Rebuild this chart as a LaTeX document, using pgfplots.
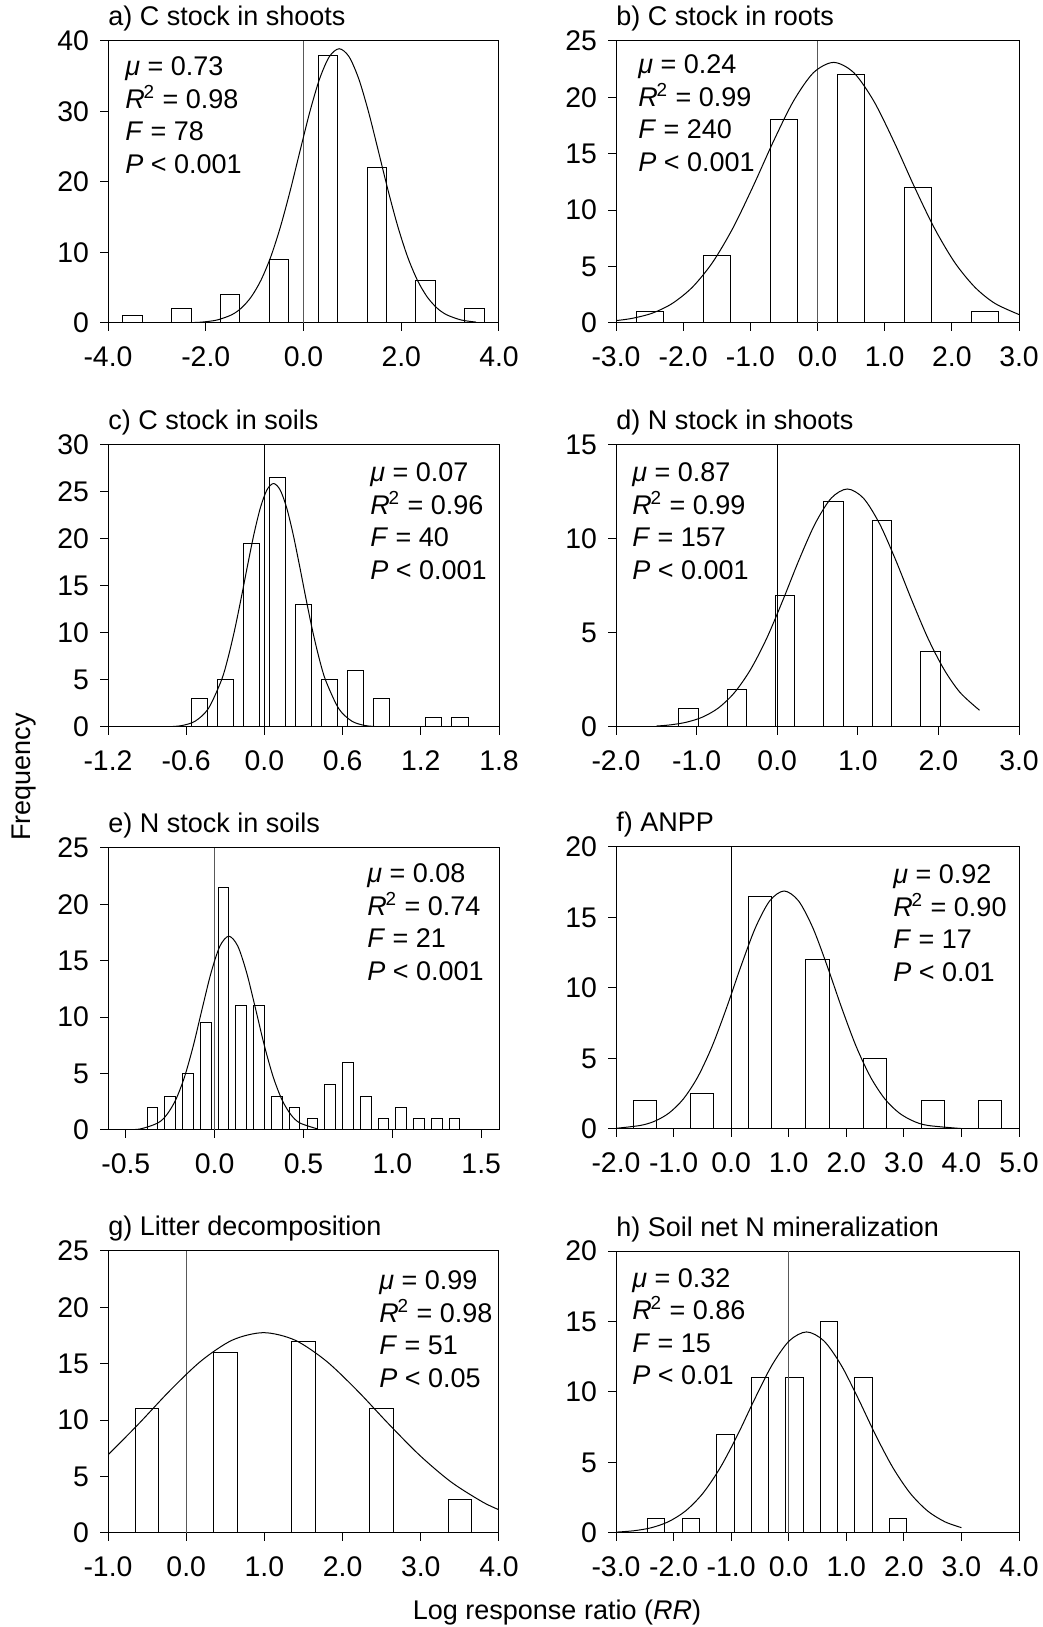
\documentclass[border=0pt]{standalone}
\usepackage{fontspec}
\setmainfont{Liberation Sans}
\usepackage{pgfplots}
\pgfplotsset{compat=1.18}
\newcommand\fs{\fontsize{13.5}{16.25}\selectfont}
\newcommand\ts{\fontsize{14.2}{16.5}\selectfont}
% four lines of fit statistics: x offset, baseline of first line below the top, mu, R2, F, P
\newcommand\stats[6]{%
  \node[anchor=base west,inner sep=0pt,xshift=#1,yshift=-#2] at (rel axis cs:0,1) {\textit{μ} = #3};
  \node[anchor=base west,inner sep=0pt,xshift=#1,yshift=-#2,yshift=-16.25pt] at (rel axis cs:0,1) {\textit{R}\kern-0.6pt\textsuperscript{2} = #4};
  \node[anchor=base west,inner sep=0pt,xshift=#1,yshift=-#2,yshift=-32.5pt] at (rel axis cs:0,1) {\textit{F} = #5};
  \node[anchor=base west,inner sep=0pt,xshift=#1,yshift=-#2,yshift=-48.75pt] at (rel axis cs:0,1) {\textit{P} < #6};
}
\pgfplotsset{
  hist/.style={
    scale only axis, height=141pt, anchor=south west,
    ymin=0, tick pos=left, tick align=outside, major tick length=4pt,
    axis line style={line width=0.5pt}, tick style={black, line width=0.5pt},
    tick label style={font=\ts}, /pgf/number format/assume math mode=true,
    xticklabel style={yshift=-4.5pt}, yticklabel style={xshift=-2pt},
    title style={at={(axis description cs:0,1)}, anchor=base west, yshift=1.5pt, inner sep=0pt, font=\fs},
  },
  bars/.style={ybar, bar shift=0pt, bar width=#1, fill=white, draw=black, line width=0.5pt},
  curve/.style={black, line width=0.5pt, smooth},
  zline/.style={#1, line width=0.55pt},
}
\begin{document}
\begin{tikzpicture}[font=\fs]
\useasboundingbox (0,0) rectangle (521.5pt,813.5pt);

% a)
\begin{axis}[hist, at={(54pt,652pt)}, width=195.5pt, xmin=-4, xmax=4, ymax=40,
  xtick={-4,-2,0,2,4}, xticklabels={-4.0,-2.0,0.0,2.0,4.0}, ytick={0,10,20,30,40},
  title={a) C stock in shoots}]
\addplot[bars=0.4] coordinates {(-3.5,1) (-2.5,2) (-1.5,4) (-0.5,9) (0.5,38) (1.5,22) (2.5,6) (3.5,2)};
\addplot[zline=black!65] coordinates {(0,0) (0,40)};
\addplot[curve] coordinates {(-2.27,0.06) (-2.07,0.13) (-1.77,0.42) (-1.47,1.16) (-1.27,2.13) (-1.07,3.70)
  (-0.87,6.07) (-0.67,9.38) (-0.47,13.68) (-0.27,18.82) (-0.07,24.44) (0.13,29.96) (0.33,34.64)
  (0.53,37.79) (0.73,38.9) (0.93,37.79) (1.13,34.64) (1.33,29.96) (1.53,24.44) (1.73,18.82)
  (1.93,13.68) (2.13,9.38) (2.33,6.07) (2.53,3.70) (2.73,2.13) (2.93,1.16) (3.23,0.42) (3.53,0.13)};
\stats{8.5pt}{17.5pt}{0.73}{0.98}{78}{0.001}
\end{axis}

% b)
\begin{axis}[hist, at={(308pt,652pt)}, width=201.5pt, xmin=-3, xmax=3, ymax=25,
  xtick={-3,-2,-1,0,1,2,3}, xticklabels={-3.0,-2.0,-1.0,0.0,1.0,2.0,3.0}, ytick={0,5,10,15,20,25},
  title={b) C stock in roots}]
\addplot[bars=0.4] coordinates {(-2.5,1) (-1.5,6) (-0.5,18) (0.5,22) (1.5,12) (2.5,1)};
\addplot[zline=black!65] coordinates {(0,0) (0,25)};
\addplot[curve] coordinates {(-3.0,0.21) (-2.76,0.41) (-2.46,0.87) (-2.16,1.74) (-1.86,3.19) (-1.56,5.39)
  (-1.26,8.41) (-0.96,12.10) (-0.66,16.05) (-0.36,19.65) (-0.06,22.19) (0.24,23.1) (0.54,22.19)
  (0.84,19.65) (1.14,16.05) (1.44,12.10) (1.74,8.41) (2.04,5.39) (2.34,3.19) (2.64,1.74) (3.0,0.75)};
\stats{11pt}{16.5pt}{0.24}{0.99}{240}{0.001}
\end{axis}

% c)
\begin{axis}[hist, at={(54pt,450pt)}, width=195.5pt, xmin=-1.2, xmax=1.8, ymax=30,
  xtick={-1.2,-0.6,0,0.6,1.2,1.8}, xticklabels={-1.2,-0.6,0.0,0.6,1.2,1.8}, ytick={0,5,10,15,20,25,30},
  title={c) C stock in soils}]
\addplot[bars=0.125] coordinates {(-0.5,3) (-0.3,5) (-0.1,19.5) (0.1,26.5) (0.3,13) (0.5,5) (0.7,6) (0.9,3) (1.3,1) (1.5,1)};
\addplot[zline=black] coordinates {(0,0) (0,30)};
\addplot[curve] coordinates {(-0.83,0.01) (-0.73,0.03) (-0.63,0.16) (-0.53,0.63) (-0.43,1.96) (-0.33,4.96)
  (-0.28,7.31) (-0.23,10.22) (-0.18,13.58) (-0.13,17.13) (-0.08,20.53) (-0.03,23.36) (0.02,25.24)
  (0.07,25.9) (0.12,25.24) (0.17,23.36) (0.22,20.53) (0.27,17.13) (0.32,13.58) (0.37,10.22)
  (0.42,7.31) (0.47,4.96) (0.57,1.96) (0.67,0.63) (0.77,0.16) (0.87,0.03)};
\stats{131pt}{18.5pt}{0.07}{0.96}{40}{0.001}
\end{axis}

% d)
\begin{axis}[hist, at={(308pt,450pt)}, width=201.5pt, xmin=-2, xmax=3, ymax=15,
  xtick={-2,-1,0,1,2,3}, xticklabels={-2.0,-1.0,0.0,1.0,2.0,3.0}, ytick={0,5,10,15},
  title={d) N stock in shoots}]
\addplot[bars=0.24] coordinates {(-1.1,1) (-0.5,2) (0.1,7) (0.7,12) (1.3,11) (1.9,4)};
\addplot[zline=black] coordinates {(0,0) (0,15)};
\addplot[curve] coordinates {(-1.5,0.05) (-1.33,0.11) (-1.13,0.25) (-0.93,0.52) (-0.73,1.01) (-0.53,1.83)
  (-0.33,3.06) (-0.13,4.72) (0.07,6.74) (0.27,8.88) (0.47,10.81) (0.67,12.17) (0.87,12.66)
  (1.07,12.17) (1.27,10.81) (1.47,8.88) (1.67,6.74) (1.87,4.72) (2.07,3.06) (2.27,1.83) (2.51,0.89)};
\stats{8pt}{18.5pt}{0.87}{0.99}{157}{0.001}
\end{axis}

% e)
\begin{axis}[hist, at={(54pt,248.5pt)}, width=195.5pt, xmin=-0.6, xmax=1.6, ymax=25,
  xtick={-0.5,0,0.5,1,1.5}, xticklabels={-0.5,0.0,0.5,1.0,1.5}, ytick={0,5,10,15,20,25},
  title={e) N stock in soils}]
\addplot[bars=0.06] coordinates {(-0.35,2) (-0.25,3) (-0.15,5) (-0.05,9.5) (0.05,21.5) (0.15,11)
  (0.25,11) (0.35,3) (0.45,2) (0.55,1) (0.65,4) (0.75,6) (0.85,3) (0.95,1) (1.05,2) (1.15,1) (1.25,1) (1.35,1)};
\addplot[zline=black!65] coordinates {(0,0) (0,25)};
\addplot[curve] coordinates {(-0.52,0.01) (-0.42,0.09) (-0.32,0.62) (-0.27,1.34) (-0.22,2.64) (-0.17,4.68)
  (-0.12,7.47) (-0.07,10.76) (-0.02,13.95) (0.03,16.31) (0.08,17.18) (0.13,16.31) (0.18,13.95)
  (0.23,10.76) (0.28,7.47) (0.33,4.68) (0.38,2.64) (0.43,1.34) (0.48,0.62) (0.58,0.09)};
\stats{129.5pt}{17.5pt}{0.08}{0.74}{21}{0.001}
\end{axis}

% f)
\begin{axis}[hist, at={(308pt,249pt)}, width=201.5pt, xmin=-2, xmax=5, ymax=20,
  xtick={-2,-1,0,1,2,3,4,5}, xticklabels={-2.0,-1.0,0.0,1.0,2.0,3.0,4.0,5.0}, ytick={0,5,10,15,20},
  title={f) ANPP}]
\addplot[bars=0.4] coordinates {(-1.5,2) (-0.5,2.5) (0.5,16.5) (1.5,12) (2.5,5) (3.5,2) (4.5,2)};
\addplot[zline=black] coordinates {(0,0) (0,20)};
\addplot[curve] coordinates {(-2.0,0.05) (-1.58,0.25) (-1.33,0.55) (-1.08,1.13) (-0.83,2.13) (-0.58,3.69)
  (-0.33,5.87) (-0.08,8.59) (0.17,11.54) (0.42,14.26) (0.67,16.18) (0.92,16.88) (1.17,16.18)
  (1.42,14.26) (1.67,11.54) (1.92,8.59) (2.17,5.87) (2.42,3.69) (2.67,2.13) (2.92,1.13)
  (3.17,0.55) (3.42,0.25) (4.0,0.03)};
\stats{138.5pt}{18.5pt}{0.92}{0.90}{17}{0.01}
\end{axis}

% g)
\begin{axis}[hist, at={(54pt,47pt)}, width=195.5pt, xmin=-1, xmax=4, ymax=25,
  xtick={-1,0,1,2,3,4}, xticklabels={-1.0,0.0,1.0,2.0,3.0,4.0}, ytick={0,5,10,15,20,25},
  title={g) Litter decomposition}]
\addplot[bars=0.3] coordinates {(-0.5,11) (0.5,16) (1.5,17) (2.5,11) (3.5,3)};
\addplot[zline=black!65] coordinates {(0,0) (0,25)};
\addplot[curve] coordinates {(-1.0,6.92) (-0.61,9.66) (-0.21,12.61) (0.19,15.25) (0.59,17.10) (0.99,17.76)
  (1.39,17.10) (1.79,15.25) (2.19,12.61) (2.59,9.66) (2.99,6.86) (3.39,4.51) (3.79,2.75) (4.0,2.06)};
\stats{135.5pt}{19.5pt}{0.99}{0.98}{51}{0.05}
\end{axis}

% h)
\begin{axis}[hist, at={(308pt,47pt)}, width=201.5pt, xmin=-3, xmax=4, ymax=20,
  xtick={-3,-2,-1,0,1,2,3,4}, xticklabels={-3.0,-2.0,-1.0,0.0,1.0,2.0,3.0,4.0}, ytick={0,5,10,15,20},
  title={h) Soil net N mineralization}]
\addplot[bars=0.3] coordinates {(-2.3,1) (-1.7,1) (-1.1,7) (-0.5,11) (0.1,11) (0.7,15) (1.3,11) (1.9,1)};
\addplot[zline=black!65] coordinates {(0,0) (0,20)};
\addplot[curve] coordinates {(-3.0,0.06) (-2.69,0.16) (-2.39,0.37) (-2.09,0.80) (-1.79,1.57) (-1.49,2.82)
  (-1.19,4.63) (-0.89,6.94) (-0.59,9.51) (-0.29,11.91) (0.01,13.63) (0.31,14.26) (0.61,13.63)
  (0.91,11.91) (1.21,9.51) (1.51,6.94) (1.81,4.63) (2.11,2.82) (2.41,1.57) (2.71,0.80) (3.0,0.38)};
\stats{8pt}{18pt}{0.32}{0.86}{15}{0.01}
\end{axis}

\node[rotate=90] at (12pt,425pt) {Frequency};
\node[anchor=base] at (278.5pt,3.5pt) {Log response ratio (\textit{RR})};
\end{tikzpicture}
\end{document}
